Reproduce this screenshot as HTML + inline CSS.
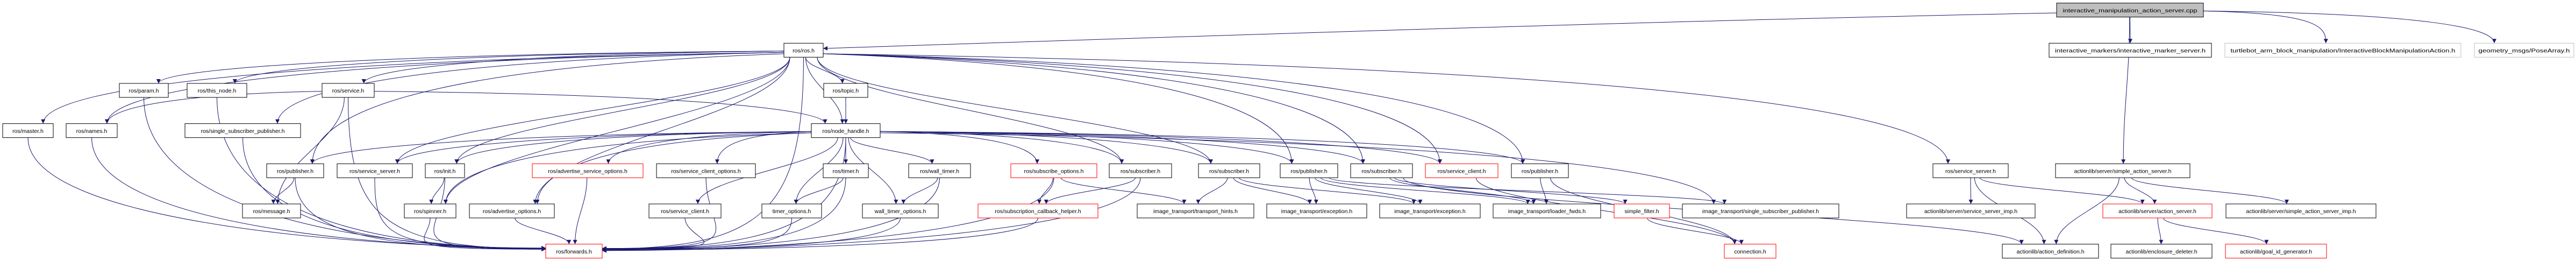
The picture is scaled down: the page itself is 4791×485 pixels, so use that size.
<!DOCTYPE html>
<html><head><meta charset="utf-8"><style>
html,body{margin:0;padding:0;background:#fff;width:4791px;height:485px;overflow:hidden}
svg text{font-family:"Liberation Sans",sans-serif;font-size:10.5px;fill:#000}
</style></head><body>
<svg id="g" width="4791" height="485" viewBox="0 0 4791 485" xmlns="http://www.w3.org/2000/svg">
<defs><marker id="a" viewBox="0 0 10 10" refX="10" refY="5" markerWidth="10" markerHeight="8" markerUnits="userSpaceOnUse" orient="auto"><path d="M0,0L10,5L0,10z" fill="#191970"/></marker></defs>
<g id="edges" fill="none" stroke="#191970" stroke-width="1"></g>
<g id="nodes">
<rect x="3825" y="5.7" width="273" height="26" fill="#bfbfbf" stroke="#000"/><text x="3961.5" y="23" text-anchor="middle" textLength="250" lengthAdjust="spacingAndGlyphs">interactive_manipulation_action_server.cpp</text>
<rect x="3811" y="80.3" width="302" height="26" fill="#fff" stroke="#000"/><text x="3962" y="97.5" text-anchor="middle" textLength="280" lengthAdjust="spacingAndGlyphs">interactive_markers/interactive_marker_server.h</text>
<rect x="4138" y="80.3" width="439" height="26" fill="#fff" stroke="#bfbfbf"/><text x="4357.5" y="97.5" text-anchor="middle" textLength="418" lengthAdjust="spacingAndGlyphs">turtlebot_arm_block_manipulation/InteractiveBlockManipulationAction.h</text>
<rect x="4602" y="80.3" width="185" height="26" fill="#fff" stroke="#bfbfbf"/><text x="4694.5" y="97.5" text-anchor="middle" textLength="170" lengthAdjust="spacingAndGlyphs">geometry_msgs/PoseArray.h</text>
<rect x="1458" y="80.3" width="73" height="26" fill="#fff" stroke="#000"/><text x="1494.5" y="97.5" text-anchor="middle">ros/ros.h</text>
<rect x="222" y="155" width="91" height="26" fill="#fff" stroke="#000"/><text x="267.5" y="172" text-anchor="middle">ros/param.h</text>
<rect x="348" y="155" width="111" height="26" fill="#fff" stroke="#000"/><text x="403.5" y="172" text-anchor="middle">ros/this_node.h</text>
<rect x="599" y="155" width="97" height="26" fill="#fff" stroke="#000"/><text x="647.5" y="172" text-anchor="middle">ros/service.h</text>
<rect x="1532" y="155" width="82" height="26" fill="#fff" stroke="#000"/><text x="1573" y="172" text-anchor="middle">ros/topic.h</text>
<rect x="5" y="229.7" width="94" height="26" fill="#fff" stroke="#000"/><text x="52" y="247" text-anchor="middle">ros/master.h</text>
<rect x="123" y="229.7" width="95" height="26" fill="#fff" stroke="#000"/><text x="170.5" y="247" text-anchor="middle">ros/names.h</text>
<rect x="344" y="229.7" width="215" height="26" fill="#fff" stroke="#000"/><text x="451.5" y="247" text-anchor="middle">ros/single_subscriber_publisher.h</text>
<rect x="1509" y="229.7" width="128" height="26" fill="#fff" stroke="#000"/><text x="1573" y="247" text-anchor="middle">ros/node_handle.h</text>
<rect x="496" y="304.3" width="106" height="26" fill="#fff" stroke="#000"/><text x="549" y="321.5" text-anchor="middle">ros/publisher.h</text>
<rect x="627" y="304.3" width="140" height="26" fill="#fff" stroke="#000"/><text x="697" y="321.5" text-anchor="middle">ros/service_server.h</text>
<rect x="791" y="304.3" width="73" height="26" fill="#fff" stroke="#000"/><text x="827.5" y="321.5" text-anchor="middle">ros/init.h</text>
<rect x="990" y="304.3" width="206" height="26" fill="#fff" stroke="#ff0000"/><text x="1093" y="321.5" text-anchor="middle">ros/advertise_service_options.h</text>
<rect x="1221" y="304.3" width="184" height="26" fill="#fff" stroke="#000"/><text x="1313" y="321.5" text-anchor="middle">ros/service_client_options.h</text>
<rect x="1531" y="304.3" width="84" height="26" fill="#fff" stroke="#000"/><text x="1573" y="321.5" text-anchor="middle">ros/timer.h</text>
<rect x="1690" y="304.3" width="115" height="26" fill="#fff" stroke="#000"/><text x="1747.5" y="321.5" text-anchor="middle">ros/wall_timer.h</text>
<rect x="1880" y="304.3" width="160" height="26" fill="#fff" stroke="#ff0000"/><text x="1960" y="321.5" text-anchor="middle">ros/subscribe_options.h</text>
<rect x="2063" y="304.3" width="116" height="26" fill="#fff" stroke="#000"/><text x="2121" y="321.5" text-anchor="middle">ros/subscriber.h</text>
<rect x="2229" y="304.3" width="114" height="26" fill="#fff" stroke="#000"/><text x="2286" y="321.5" text-anchor="middle">ros/subscriber.h</text>
<rect x="2381" y="304.3" width="107" height="26" fill="#fff" stroke="#000"/><text x="2434.5" y="321.5" text-anchor="middle">ros/publisher.h</text>
<rect x="2512" y="304.3" width="115" height="26" fill="#fff" stroke="#000"/><text x="2569.5" y="321.5" text-anchor="middle">ros/subscriber.h</text>
<rect x="2651" y="304.3" width="135" height="26" fill="#fff" stroke="#ff0000"/><text x="2718.5" y="321.5" text-anchor="middle">ros/service_client.h</text>
<rect x="2811" y="304.3" width="106" height="26" fill="#fff" stroke="#000"/><text x="2864" y="321.5" text-anchor="middle">ros/publisher.h</text>
<rect x="3595" y="304.3" width="140" height="26" fill="#fff" stroke="#000"/><text x="3665" y="321.5" text-anchor="middle">ros/service_server.h</text>
<rect x="3823" y="304.3" width="250" height="26" fill="#fff" stroke="#000"/><text x="3948" y="321.5" text-anchor="middle">actionlib/server/simple_action_server.h</text>
<rect x="451" y="379" width="108" height="26" fill="#fff" stroke="#000"/><text x="505" y="396" text-anchor="middle">ros/message.h</text>
<rect x="752" y="379" width="96" height="26" fill="#fff" stroke="#000"/><text x="800" y="396" text-anchor="middle">ros/spinner.h</text>
<rect x="873" y="379" width="158" height="26" fill="#fff" stroke="#000"/><text x="952" y="396" text-anchor="middle">ros/advertise_options.h</text>
<rect x="1207" y="379" width="134" height="26" fill="#fff" stroke="#000"/><text x="1274" y="396" text-anchor="middle">ros/service_client.h</text>
<rect x="1417" y="379" width="111" height="26" fill="#fff" stroke="#000"/><text x="1472.5" y="396" text-anchor="middle">timer_options.h</text>
<rect x="1604" y="379" width="141" height="26" fill="#fff" stroke="#000"/><text x="1674.5" y="396" text-anchor="middle">wall_timer_options.h</text>
<rect x="1819" y="379" width="223" height="26" fill="#fff" stroke="#ff0000"/><text x="1930.5" y="396" text-anchor="middle">ros/subscription_callback_helper.h</text>
<rect x="2115" y="379" width="217" height="26" fill="#fff" stroke="#000"/><text x="2223.5" y="396" text-anchor="middle">image_transport/transport_hints.h</text>
<rect x="2356" y="379" width="186" height="26" fill="#fff" stroke="#000"/><text x="2449" y="396" text-anchor="middle">image_transport/exception.h</text>
<rect x="2566" y="379" width="187" height="26" fill="#fff" stroke="#000"/><text x="2659.5" y="396" text-anchor="middle">image_transport/exception.h</text>
<rect x="2777" y="379" width="200" height="26" fill="#fff" stroke="#000"/><text x="2877" y="396" text-anchor="middle">image_transport/loader_fwds.h</text>
<rect x="3002" y="379" width="103" height="26" fill="#fff" stroke="#ff0000"/><text x="3053.5" y="396" text-anchor="middle">simple_filter.h</text>
<rect x="3129" y="379" width="291" height="26" fill="#fff" stroke="#000"/><text x="3274.5" y="396" text-anchor="middle">image_transport/single_subscriber_publisher.h</text>
<rect x="3546" y="379" width="239" height="26" fill="#fff" stroke="#000"/><text x="3665.5" y="396" text-anchor="middle">actionlib/server/service_server_imp.h</text>
<rect x="3911" y="379" width="203" height="26" fill="#fff" stroke="#ff0000"/><text x="4012.5" y="396" text-anchor="middle">actionlib/server/action_server.h</text>
<rect x="4140" y="379" width="279" height="26" fill="#fff" stroke="#000"/><text x="4279.5" y="396" text-anchor="middle">actionlib/server/simple_action_server_imp.h</text>
<rect x="1015" y="453.7" width="105" height="26" fill="#fff" stroke="#ff0000"/><text x="1067.5" y="471" text-anchor="middle">ros/forwards.h</text>
<rect x="3207" y="453.7" width="96" height="26" fill="#fff" stroke="#ff0000"/><text x="3255" y="471" text-anchor="middle">connection.h</text>
<rect x="3724" y="453.7" width="179" height="26" fill="#fff" stroke="#000"/><text x="3813.5" y="471" text-anchor="middle">actionlib/action_definition.h</text>
<rect x="3926" y="453.7" width="188" height="26" fill="#fff" stroke="#000"/><text x="4020" y="471" text-anchor="middle">actionlib/enclosure_deleter.h</text>
<rect x="4139" y="453.7" width="188" height="26" fill="#fff" stroke="#ff0000"/><text x="4233" y="471" text-anchor="middle">actionlib/goal_id_generator.h</text>
</g>
</svg>
<script>
var R=[5.7,80.3,155,229.7,304.3,379,453.7];
var N={root:[3825,4098,0],ims:[3811,4113,1],tbm:[4138,4577,1],gpa:[4602,4787,1],ros:[1458,1531,1],
param:[222,313,2],thisnode:[348,459,2],service:[599,696,2],topic:[1532,1614,2],
master:[5,99,3],names:[123,218,3],ssp:[344,559,3],nh:[1509,1637,3],
pub1:[496,602,4],ss1:[627,767,4],init:[791,864,4],aso:[990,1196,4],sco:[1221,1405,4],timer:[1531,1615,4],wtimer:[1690,1805,4],subo:[1880,2040,4],sub1:[2063,2179,4],sub2:[2229,2343,4],pub2:[2381,2488,4],sub3:[2512,2627,4],sc2:[2651,2786,4],pub3:[2811,2917,4],ss2:[3595,3735,4],sas:[3823,4073,4],
msg:[451,559,5],spin:[752,848,5],ao:[873,1031,5],sc1:[1207,1341,5],topt:[1417,1528,5],wto:[1604,1745,5],sch:[1819,2042,5],th:[2115,2332,5],exc1:[2356,2542,5],exc2:[2566,2753,5],lf:[2777,2977,5],sf:[3002,3105,5],itssp:[3129,3420,5],ssi:[3546,3785,5],as:[3911,4114,5],sasi:[4140,4419,5],
fwd:[1015,1120,6],conn:[3207,3303,6],ad:[3724,3903,6],ed:[3926,4114,6],gid:[4139,4327,6]};
var E=[["root","ims"],["root","tbm"],["root","gpa"],["root","sas"],
["ros","master"],["ros","names"],["ros","param"],["ros","thisnode"],["ros","service"],["ros","ssp"],["ros","topic"],["ros","nh"],["ros","pub1"],["ros","ss1"],["ros","init"],["ros","spin"],["ros","ao"],["ros","sub1"],["ros","sub2"],["ros","pub2"],["ros","sub3"],["ros","pub3"],["ros","sc2"],["ros","ss2"],["ros","fwd"],
["service","names"],["service","msg"],["service","fwd"],["service","nh"],["topic","nh"],
["nh","pub1"],["nh","ss1"],["nh","init"],["nh","spin"],["nh","aso"],["nh","sco"],["nh","timer"],["nh","sc1"],["nh","ao"],["nh","wtimer"],["nh","wto"],["nh","topt"],["nh","subo"],["nh","sub1"],["nh","sub2"],["nh","pub2"],["nh","sub3"],["nh","sc2"],["nh","pub3"],["nh","itssp"],["nh","fwd"],
["pub1","msg"],["pub1","fwd"],["ss1","fwd"],["init","spin"],["init","fwd"],["spin","fwd"],["ao","fwd"],["aso","fwd"],["sco","fwd"],["sc1","fwd"],["timer","topt"],["timer","fwd"],["topt","fwd"],["wtimer","wto"],["wtimer","fwd"],["wto","fwd"],
["subo","sch"],["subo","th"],["subo","fwd"],["sub1","sch"],["sub1","fwd"],["sch","fwd"],["sub2","th"],["sub2","exc1"],["sub2","exc2"],["pub2","exc1"],["pub2","exc2"],["pub2","lf"],["pub2","itssp"],["sub3","lf"],["sub3","sf"],["sub3","ad"],["sc2","conn"],["pub3","lf"],["pub3","conn"],["sf","conn"],
["ss2","ssi"],["ss2","ad"],["ss2","as"],["sas","ad"],["sas","as"],["sas","sasi"],["as","ed"],["as","gid"],
["master","fwd"],["names","fwd"],["param","fwd"],["thisnode","fwd"],["ssp","fwd"]];
var g=document.getElementById("edges"),s="";
function cx(n){return (n[0]+n[1])/2}
E.forEach(function(e){var a=N[e[0]],b=N[e[1]];var sx=cx(a),sy=R[a[2]]+26,tx,ty;
var bc=cx(b),hw=(b[1]-b[0])/2;
if(e[1]=="fwd"&&a[2]<6&&(sx<900||sx>1250)){
 ty=R[6]+13+(sx<1067?-6+(sx/1000)*3:-6+((sx-1120)/2000)*10);tx=sx<1067?1015:1120;
 sx=Math.min(Math.max(sx,a[0]+10),a[1]-10);
 s+='<path d="M'+sx+','+sy+' C'+sx+','+(sy+(ty-sy)*0.8)+' '+(tx+(sx<1067?-300:300))+','+ty+' '+tx+','+ty+'" marker-end="url(#a)"/>';return;}
tx=bc+Math.max(-hw*0.6,Math.min(hw*0.6,(sx-bc)*0.08));ty=R[b[2]];
var dx=tx-sx,dy0=ty-sy;
if(Math.abs(dx)>4*dy0&&a[2]<=3){
 var ly=R[a[2]]+13+Math.max(-8,Math.min(8,dy0/30));
 var px=dx<0?a[0]:a[1];
 s+='<path d="M'+px+','+ly+' C'+(px+dx*0.6).toFixed(1)+','+(ly+dy0*0.1).toFixed(1)+' '+tx.toFixed(1)+','+(ty-dy0*0.6).toFixed(1)+' '+tx.toFixed(1)+','+ty+'" marker-end="url(#a)"/>';return;}
var ox=Math.max(-(a[1]-a[0])/2*0.7,Math.min((a[1]-a[0])/2*0.7,(bc-sx)*0.05));sx+=ox;
var dy=ty-sy;
s+='<path d="M'+sx.toFixed(1)+','+sy+' C'+sx.toFixed(1)+','+(sy+dy*0.4)+' '+tx.toFixed(1)+','+(ty-dy*0.4)+' '+tx.toFixed(1)+','+ty+'" marker-end="url(#a)"/>';});
s+='<path d="M3825,24 C3000,40 2000,75 1531,90" marker-end="url(#a)"/>';
g.innerHTML=s;
</script>
</body></html>
